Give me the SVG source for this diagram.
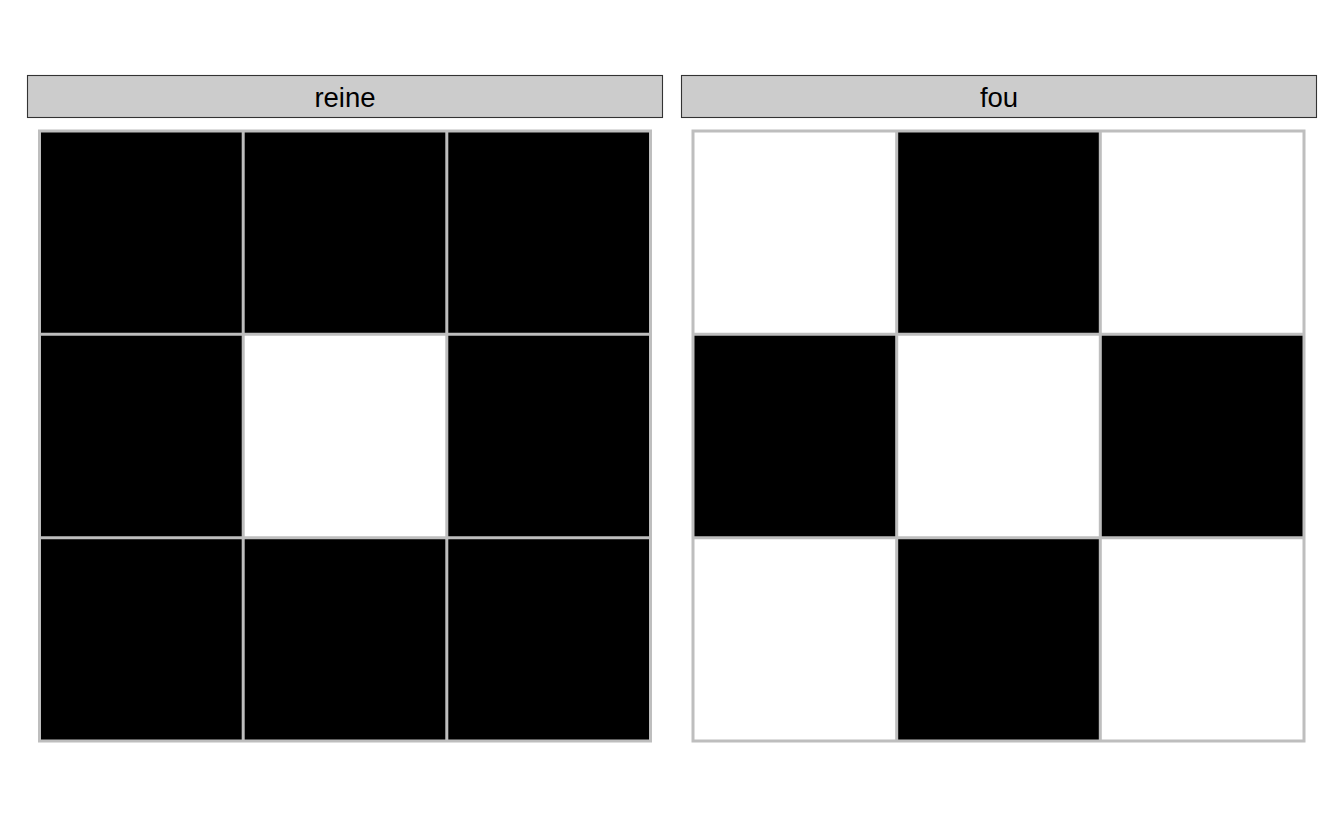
<svg xmlns="http://www.w3.org/2000/svg" width="1344" height="830" viewBox="0 0 1344 830">
<style>
.strip{fill:#CCCCCC;stroke:#333333;stroke-width:1.1}
.lbl{font-family:"Liberation Sans",Arial,sans-serif;font-size:27.5px;fill:#000000;text-anchor:middle}
.b{fill:#000000}
.w{fill:#FFFFFF}
.grid{fill:none;stroke:#BEBEBE;stroke-width:3}
</style>
<rect x="0" y="0" width="1344" height="830" fill="#FFFFFF"/>
<g id="panel-reine">
<rect class="strip" x="27.5" y="75.5" width="635" height="42"/>
<text class="lbl" x="345" y="107">reine</text>
<rect class="b" x="39.5" y="131" width="203.7" height="203.3"/>
<rect class="b" x="243.2" y="131" width="203.6" height="203.3"/>
<rect class="b" x="446.8" y="131" width="203.7" height="203.3"/>
<rect class="b" x="39.5" y="334.3" width="203.7" height="203.4"/>
<rect class="w" x="243.2" y="334.3" width="203.6" height="203.4"/>
<rect class="b" x="446.8" y="334.3" width="203.7" height="203.4"/>
<rect class="b" x="39.5" y="537.7" width="203.7" height="203.3"/>
<rect class="b" x="243.2" y="537.7" width="203.6" height="203.3"/>
<rect class="b" x="446.8" y="537.7" width="203.7" height="203.3"/>
<path class="grid" d="M39.5 131H650.5V741H39.5Z M243.2 131V741 M446.8 131V741 M39.5 334.3H650.5 M39.5 537.7H650.5"/>
</g>
<g id="panel-fou">
<rect class="strip" x="681.5" y="75.5" width="635" height="42"/>
<text class="lbl" x="999" y="107">fou</text>
<rect class="w" x="693" y="131" width="203.7" height="203.3"/>
<rect class="b" x="896.7" y="131" width="203.6" height="203.3"/>
<rect class="w" x="1100.3" y="131" width="203.7" height="203.3"/>
<rect class="b" x="693" y="334.3" width="203.7" height="203.4"/>
<rect class="w" x="896.7" y="334.3" width="203.6" height="203.4"/>
<rect class="b" x="1100.3" y="334.3" width="203.7" height="203.4"/>
<rect class="w" x="693" y="537.7" width="203.7" height="203.3"/>
<rect class="b" x="896.7" y="537.7" width="203.6" height="203.3"/>
<rect class="w" x="1100.3" y="537.7" width="203.7" height="203.3"/>
<path class="grid" d="M693 131H1304V741H693Z M896.7 131V741 M1100.3 131V741 M693 334.3H1304 M693 537.7H1304"/>
</g>
<g id="connectors"></g>
</svg>
